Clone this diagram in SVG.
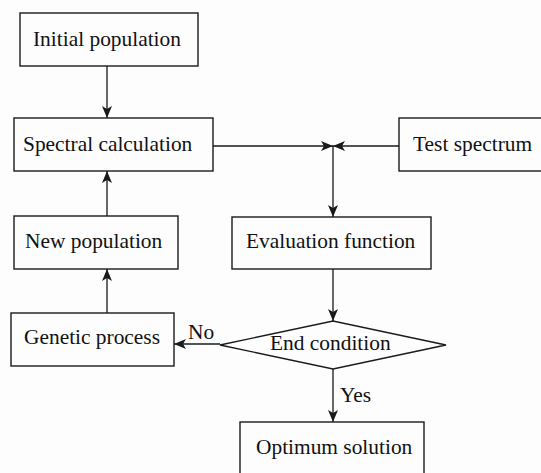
<svg xmlns="http://www.w3.org/2000/svg" width="541" height="473" viewBox="0 0 541 473">
<style>
.box{fill:none;stroke:#1a1a1a;stroke-width:1.4}
.ln{fill:none;stroke:#1a1a1a;stroke-width:1.3}
text{font-family:"Liberation Serif","Times New Roman",serif;font-size:21.4px;fill:#111}
</style>
<defs>
<marker id="ah" viewBox="0 0 12 10" refX="12" refY="5" markerWidth="12" markerHeight="10" markerUnits="userSpaceOnUse" orient="auto">
<path d="M0,0 L12,5 L0,10 L3,5 z" fill="#1a1a1a"/>
</marker>
</defs>
<rect width="541" height="473" fill="#fdfdfd"/>
<g id="connectors">
<line class="ln" x1="107" y1="66" x2="107" y2="118" marker-end="url(#ah)"/>
<line class="ln" x1="107" y1="216" x2="107" y2="171" marker-end="url(#ah)"/>
<line class="ln" x1="107" y1="313" x2="107" y2="269" marker-end="url(#ah)"/>
<line class="ln" x1="213" y1="146" x2="333" y2="146" marker-end="url(#ah)"/>
<line class="ln" x1="399" y1="146" x2="333" y2="146" marker-end="url(#ah)"/>
<line class="ln" x1="333" y1="146" x2="333" y2="217" marker-end="url(#ah)"/>
<line class="ln" x1="333" y1="269" x2="333" y2="321" marker-end="url(#ah)"/>
<line class="ln" x1="220" y1="344" x2="174" y2="344" marker-end="url(#ah)"/>
<line class="ln" x1="333" y1="369" x2="333" y2="422" marker-end="url(#ah)"/>
<text x="188" y="339">No</text>
<text x="340" y="402">Yes</text>
</g>
<g id="initial"><rect class="box" x="20" y="13" width="178" height="53"/><text x="33" y="46">Initial population</text></g>
<g id="spectral"><rect class="box" x="14" y="118" width="199" height="53"/><text x="23" y="151">Spectral calculation</text></g>
<g id="test"><rect class="box" x="399" y="118" width="145" height="53"/><text x="413" y="151">Test spectrum</text></g>
<g id="newpop"><rect class="box" x="14" y="216" width="164" height="53"/><text x="25" y="248">New population</text></g>
<g id="eval"><rect class="box" x="232" y="217" width="199" height="52"/><text x="246" y="248">Evaluation function</text></g>
<g id="genetic"><rect class="box" x="11" y="313" width="163" height="53"/><text x="24" y="344">Genetic process</text></g>
<g id="end"><polygon class="box" points="220,345 333,321 446,345 333,369"/><text x="270" y="350">End condition</text></g>
<g id="optimum"><rect class="box" x="240" y="422" width="184" height="60"/><text x="256" y="454">Optimum solution</text></g>
</svg>
